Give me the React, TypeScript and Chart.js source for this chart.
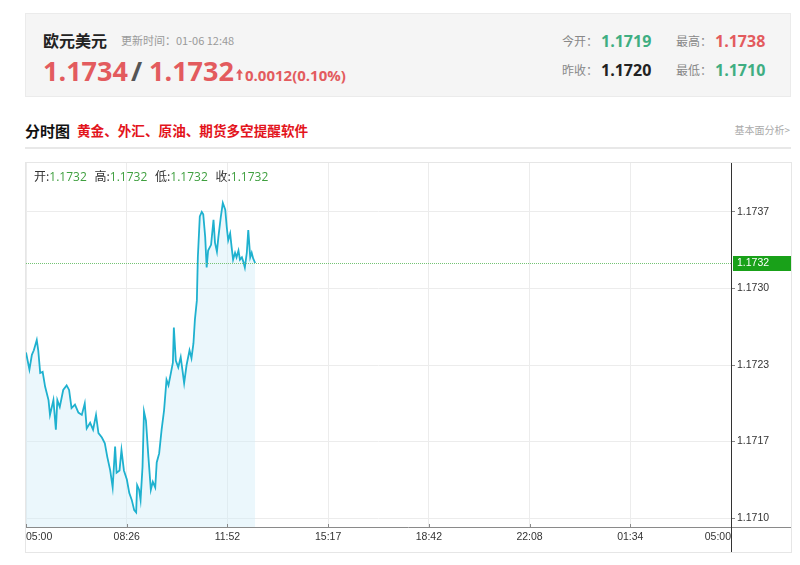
import React, { useEffect, useRef } from "react";
import { Chart, registerables } from "chart.js";

Chart.register(...registerables);

// ---- data ----
const times = [
  "05:00", "05:07", "05:12", "05:16", "05:22", "05:25", "05:29", "05:34", "05:39", "05:46",
  "05:49", "05:56", "06:01", "06:04", "06:09", "06:16", "06:23", "06:28", "06:33", "06:40",
  "06:47", "06:54", "07:00", "07:04", "07:11", "07:17", "07:23", "07:28", "07:35", "07:41",
  "07:46", "07:52", "07:57", "08:02", "08:05", "08:11", "08:15", "08:20", "08:26", "08:31",
  "08:36", "08:41", "08:45", "08:47", "08:51", "08:54", "08:58", "09:01", "09:05", "09:10",
  "09:15", "09:19", "09:24", "09:27", "09:32", "09:37", "09:42", "09:47", "09:51", "09:56",
  "10:00", "10:02", "10:06", "10:11", "10:16", "10:20", "10:23", "10:28", "10:34", "10:38",
  "10:42", "10:45", "10:49", "10:51", "10:55", "10:59", "11:02", "11:06", "11:09", "11:12",
  "11:18", "11:23", "11:26", "11:30", "11:33", "11:38", "11:42", "11:47", "11:50", "11:53",
  "11:57", "12:00", "12:03", "12:07", "12:10", "12:14", "12:17", "12:21", "12:24", "12:27",
  "12:31", "12:34", "12:38", "12:41", "12:44", "12:48",
];
const prices = [
  1.17246, 1.17231, 1.17244, 1.17248, 1.17257, 1.17248, 1.17228, 1.17229, 1.17216, 1.17204,
  1.17191, 1.17204, 1.17178, 1.17204, 1.17198, 1.17213, 1.17217, 1.17213, 1.17197, 1.17200,
  1.17193, 1.17191, 1.17201, 1.17179, 1.17184, 1.17178, 1.17191, 1.17175, 1.17171, 1.17166,
  1.17154, 1.17142, 1.17127, 1.17163, 1.17140, 1.17142, 1.17160, 1.17142, 1.17134, 1.17122,
  1.17116, 1.17107, 1.17105, 1.17129, 1.17125, 1.17116, 1.17145, 1.17194, 1.17186, 1.17154,
  1.17125, 1.17132, 1.17127, 1.17149, 1.17157, 1.17178, 1.17195, 1.17222, 1.17217, 1.17228,
  1.17237, 1.17268, 1.17239, 1.17233, 1.17242, 1.17229, 1.17219, 1.17235, 1.17248, 1.17241,
  1.17254, 1.17275, 1.17292, 1.17330, 1.17366, 1.17370, 1.17368, 1.17348, 1.17321, 1.17336,
  1.17341, 1.17363, 1.17343, 1.17335, 1.17348, 1.17366, 1.17378, 1.17372, 1.17357, 1.17345,
  1.17351, 1.17339, 1.17328, 1.17334, 1.17330, 1.17336, 1.17328, 1.17330, 1.17326, 1.17321,
  1.17334, 1.17354, 1.17330, 1.17334, 1.17329, 1.17325,
];
const xTickLabels = ["05:00", "08:26", "11:52", "15:17", "18:42", "22:08", "01:34", "05:00"];
const yTickValues = [1.171, 1.171675, 1.17235, 1.173025, 1.1737];
const yTickLabels = ["1.1710", "1.1717", "1.1723", "1.1730", "1.1737"];
const lastPrice = 1.17325;
const lastPriceLabel = "1.1732";
const ohlcLabels = ["开", "高", "低", "收"];
const ohlcValues = ["1.1732", "1.1732", "1.1732", "1.1732"];

const symbolName = "欧元美元";
const updateTime = "更新时间：01-06 12:48";
const bidPrice = "1.1734";
const askPrice = "1.1732";
const changeText = "0.0012(0.10%)";
const statLabels = ["今开：", "最高：", "昨收：", "最低："];
const statValues = ["1.1719", "1.1738", "1.1720", "1.1710"];

const SESSION_MIN = 1440;

function toMinutes(t: string): number {
  const [h, m] = t.split(":").map(Number);
  return (h * 60 + m - 300 + 1440) % 1440;
}

const RED = "#e35b5e";
const GREEN = "#3fae82";
const CJK = "'Noto Sans CJK SC', 'Open Sans', sans-serif";
const NUM = "'Open Sans', 'Noto Sans CJK SC', sans-serif";
const AXIS_FONT = "'Liberation Sans', Arial, sans-serif";

const overlayPlugin = {
  id: "overlay",
  afterDraw(chart: any) {
    const { ctx, chartArea: a, scales } = chart;
    const xs = scales.x;
    const ys = scales.y;
    ctx.save();
    // dotted last price line
    const py = Math.round(ys.getPixelForValue(lastPrice)) + 0.5;
    ctx.strokeStyle = "#74c474";
    ctx.lineWidth = 1;
    ctx.setLineDash([1, 1]);
    ctx.beginPath();
    ctx.moveTo(a.left, py);
    ctx.lineTo(a.right, py);
    ctx.stroke();
    ctx.setLineDash([]);

    // x axis line
    const by = a.bottom + 0.5;
    ctx.strokeStyle = "#8a8a8a";
    ctx.beginPath();
    ctx.moveTo(a.left, by);
    ctx.lineTo(chart.width, by);
    ctx.stroke();

    // x ticks + labels
    ctx.font = "10.5px " + AXIS_FONT;
    ctx.fillStyle = "#333";
    ctx.textBaseline = "middle";
    const n = xTickLabels.length - 1;
    xTickLabels.forEach((lab, i) => {
      const x = xs.getPixelForValue((i * SESSION_MIN) / n);
      const rx = Math.round(x) + 0.5;
      ctx.beginPath();
      ctx.moveTo(rx, a.bottom - 3);
      ctx.lineTo(rx, a.bottom);
      ctx.stroke();
      ctx.textAlign = i === 0 ? "left" : i === n ? "right" : "center";
      ctx.fillText(lab, x, a.bottom + 10);
    });

    // y axis line (full height)
    const ax = a.right + 0.5;
    ctx.strokeStyle = "#333";
    ctx.beginPath();
    ctx.moveTo(ax, 0);
    ctx.lineTo(ax, chart.height);
    ctx.stroke();

    // last price box
    ctx.fillStyle = "#19a119";
    ctx.fillRect(a.right + 2, py - 7.5, chart.width - a.right - 2, 15);
    ctx.fillStyle = "#fff";
    ctx.textAlign = "left";
    ctx.fillText(lastPriceLabel, a.right + 6, py);
    ctx.restore();
  },
};

function PriceChart() {
  const ref = useRef<HTMLCanvasElement | null>(null);
  useEffect(() => {
    if (!ref.current) return;
    const data = times.map((t, i) => ({ x: toMinutes(t), y: prices[i] }));
    const chart = new Chart(ref.current, {
      type: "line",
      data: {
        datasets: [
          {
            data,
            borderColor: "#1fb1cf",
            borderWidth: 1.8,
            pointRadius: 0,
            tension: 0,
            fill: "start",
            backgroundColor: "rgba(210,238,248,0.45)",
          },
        ],
      },
      options: {
        animation: false,
        responsive: false,
        devicePixelRatio: 1,
        layout: { padding: 0 },
        plugins: { legend: { display: false }, tooltip: { enabled: false } },
        scales: {
          x: {
            type: "linear",
            min: 0,
            max: SESSION_MIN,
            afterBuildTicks: (s: any) => {
              const n = xTickLabels.length - 1;
              s.ticks = xTickLabels.map((_, i) => ({ value: (i * SESSION_MIN) / n }));
            },
            afterFit: (s: any) => {
              s.height = 25;
              s.paddingLeft = 0;
              s.paddingRight = 0;
            },
            ticks: { display: false },
            grid: { color: "#ececec", drawTicks: false },
            border: { display: false },
          },
          y: {
            type: "linear",
            position: "right",
            min: 1.170921,
            max: 1.174132,
            afterBuildTicks: (s: any) => {
              s.ticks = yTickValues.map((v) => ({ value: v }));
            },
            afterFit: (s: any) => {
              s.width = 60;
              s.paddingTop = 0;
              s.paddingBottom = 0;
            },
            ticks: {
              padding: 2,
              color: "#333",
              font: { family: AXIS_FONT, size: 10.5 },
              callback: (_v: any, i: number) => yTickLabels[i],
            },
            grid: { color: "#ececec", tickColor: "#888", tickLength: 4 },
            border: { display: false },
          },
        },
      },
      plugins: [overlayPlugin],
    });
    return () => chart.destroy();
  }, []);
  return <canvas ref={ref} width={765} height={389} style={{ display: "block", width: 765, height: 389 }} />;
}

function Abs(props: { left: number; top: number; style?: React.CSSProperties; children: React.ReactNode }) {
  return (
    <div style={{ position: "absolute", left: props.left, top: props.top, whiteSpace: "nowrap", ...props.style }}>
      {props.children}
    </div>
  );
}

export default function App() {
  const cjk = (size: number, color: string, bold = false): React.CSSProperties => ({
    fontFamily: CJK,
    fontSize: size,
    lineHeight: `${size}px`,
    color,
    fontWeight: bold ? 700 : 400,
  });
  const num = (size: number, color: string): React.CSSProperties => ({
    fontFamily: NUM,
    fontSize: size,
    lineHeight: `${size}px`,
    color,
    fontWeight: 700,
  });
  return (
    <div style={{ position: "absolute", left: 0, top: 0, width: 800, height: 565, background: "#fff", overflow: "hidden" }}>
      {/* header panel */}
      <div
        style={{
          position: "absolute",
          left: 25,
          top: 13,
          width: 766,
          height: 84,
          background: "#f5f5f5",
          border: "1px solid #ebebeb",
          boxSizing: "border-box",
        }}
      />
      <Abs left={43} top={32} style={cjk(16, "#222", true)}>{symbolName}</Abs>
      <Abs left={121} top={35} style={cjk(11, "#9a9a9a")}>{updateTime}</Abs>
      <Abs left={43} top={57} style={num(27, RED)}>{bidPrice}</Abs>
      <Abs left={131} top={57} style={num(27, "#555")}>/</Abs>
      <Abs left={149} top={57} style={num(27, RED)}>{askPrice}</Abs>
      <Abs left={236} top={69} style={{}}>
        <svg width="7" height="11" viewBox="0 0 7 11" style={{ display: "block" }}>
          <path d="M3.5 0 L7 4.5 L4.6 4.5 L4.6 11 L2.4 11 L2.4 4.5 L0 4.5 Z" fill={RED} />
        </svg>
      </Abs>
      <Abs left={245} top={68} style={{ ...num(15, RED) }}>{changeText}</Abs>

      <Abs left={562} top={35} style={cjk(12, "#888")}>{statLabels[0]}</Abs>
      <Abs left={601} top={33} style={num(16, GREEN)}>{statValues[0]}</Abs>
      <Abs left={676} top={35} style={cjk(12, "#888")}>{statLabels[1]}</Abs>
      <Abs left={715} top={33} style={num(16, RED)}>{statValues[1]}</Abs>
      <Abs left={562} top={64} style={cjk(12, "#888")}>{statLabels[2]}</Abs>
      <Abs left={601} top={62} style={num(16, "#222")}>{statValues[2]}</Abs>
      <Abs left={676} top={64} style={cjk(12, "#888")}>{statLabels[3]}</Abs>
      <Abs left={715} top={62} style={num(16, GREEN)}>{statValues[3]}</Abs>

      {/* title row */}
      <Abs left={25} top={123} style={cjk(15, "#111", true)}>分时图</Abs>
      <Abs left={77} top={124} style={cjk(13.6, "#e3141c", true)}>黄金、外汇、原油、期货多空提醒软件</Abs>
      <Abs left={690} top={125} style={{ ...cjk(10, "#aaa"), width: 100, textAlign: "right" }}>基本面分析&gt;</Abs>
      <div style={{ position: "absolute", left: 25, top: 147, width: 766, height: 2, background: "#e8e8e8" }} />

      {/* chart */}
      <div
        style={{
          position: "absolute",
          left: 25,
          top: 162,
          width: 767,
          height: 391,
          border: "1px solid #e6e6e6",
          boxSizing: "border-box",
        }}
      >
        <PriceChart />
      </div>
      {ohlcLabels.map((l, i) => (
        <Abs key={l} left={34 + i * 60.5} top={170} style={cjk(12, "#333")}>
          {l}:<span style={{ color: "#3f9f3f", fontFamily: NUM }}>{ohlcValues[i]}</span>
        </Abs>
      ))}
    </div>
  );
}
